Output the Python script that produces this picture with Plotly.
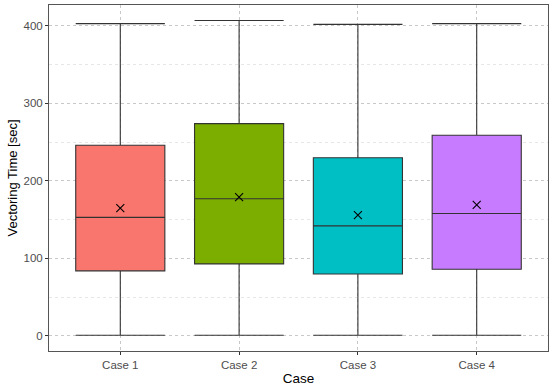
import plotly.graph_objects as go

cases = ["Case 1", "Case 2", "Case 3", "Case 4"]
q1 = [84, 93, 80, 86]
median = [153, 177, 142, 158]
q3 = [246, 274, 230, 259]
lower = [1, 1, 1, 1]
upper = [403, 407, 402, 403]
means = [165, 179, 156, 169]
colors = ["#F8766D", "#7CAE00", "#00BFC4", "#C77CFF"]

fig = go.Figure()
for i, c in enumerate(cases):
    fig.add_trace(go.Box(
        x=[c], q1=[q1[i]], median=[median[i]], q3=[q3[i]],
        lowerfence=[lower[i]], upperfence=[upper[i]],
        fillcolor=colors[i], line=dict(color="#333333", width=1.1),
        whiskerwidth=1, width=0.75, boxpoints=False, showlegend=False,
        hoverinfo="skip",
    ))

fig.add_trace(go.Scatter(
    x=cases, y=means, mode="markers",
    marker=dict(symbol="x-thin-open", size=8, color="black",
                line=dict(color="black", width=1.1)),
    showlegend=False,
))

fig.update_layout(
    width=550, height=388,
    margin=dict(l=49, r=2, t=5, b=37),
    paper_bgcolor="white", plot_bgcolor="white",
    boxmode="overlay",
    font=dict(family="Liberation Sans, Arial, sans-serif", color="#4D4D4D", size=11.5),
)
fig.update_xaxes(
    type="category", range=[-0.6, 3.6], automargin=False,
    showgrid=True, gridcolor="#C8C8C8", griddash="dot", gridwidth=1,
    showline=True, linecolor="#555555", linewidth=1, mirror=True,
    ticks="outside", ticklen=3, tickcolor="#333333",
    title=dict(text="Case", font=dict(size=13.5, color="black"), standoff=3),
    zeroline=False,
)
fig.update_yaxes(
    range=[-19.4, 427], tickvals=[0, 100, 200, 300, 400], automargin=False,
    showgrid=True, gridcolor="#C8C8C8", griddash="dot", gridwidth=1,
    minor=dict(tickvals=[50, 150, 250, 350], showgrid=True,
               gridcolor="#E6E6E6", griddash="dot", gridwidth=1),
    showline=True, linecolor="#555555", linewidth=1, mirror=True,
    ticks="outside", ticklen=3, tickcolor="#333333",
    title=dict(text="Vectoring Time [sec]", font=dict(size=13, color="black"), standoff=2),
    zeroline=False,
)

fig.write_html("out.html", config={"displayModeBar": False},
               post_script="document.body.style.margin='0';")
